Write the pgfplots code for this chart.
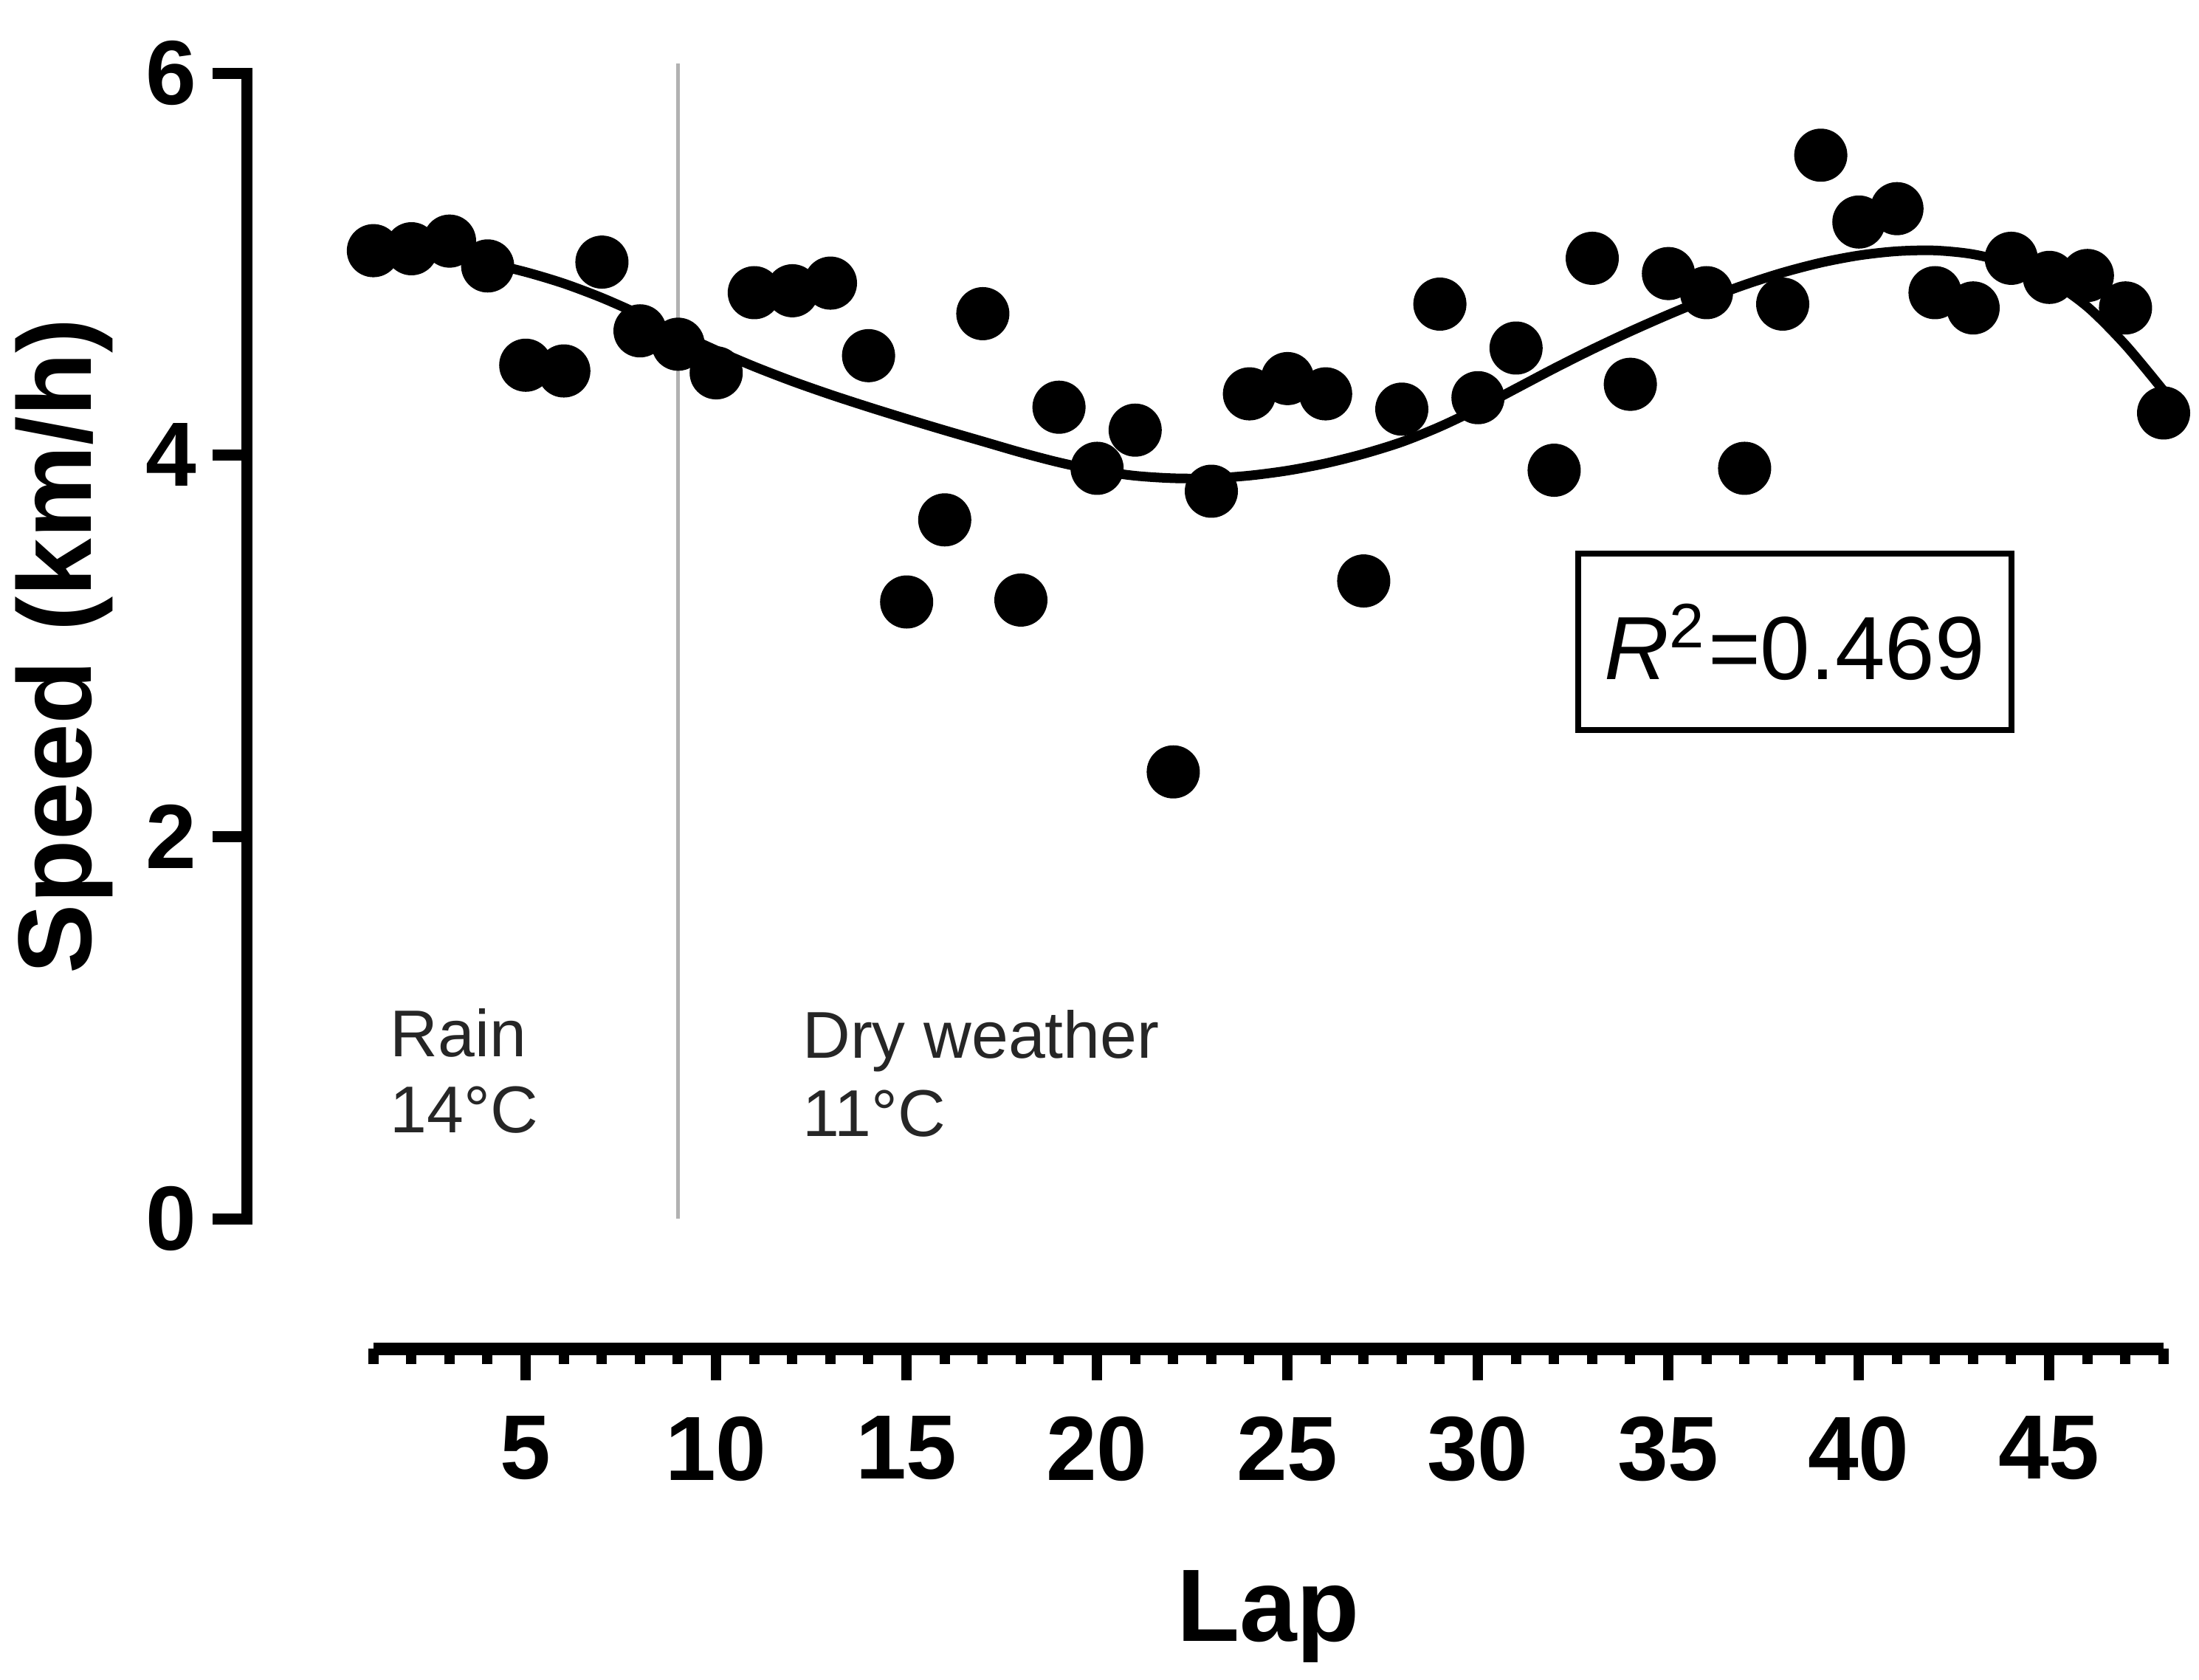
\documentclass[border=0pt]{standalone}
\usepackage{fontspec}
\setmainfont{Liberation Sans}
\usepackage{pgfplots}
\usepackage{pgfplotstable}
\pgfplotsset{compat=1.18}
\pgfplotstableread{
lap speed
1 5.07
2 5.08
3 5.12
4 4.99
5 4.47
6 4.44
7 5.01
8 4.65
9 4.58
10 4.43
11 4.85
12 4.86
13 4.90
14 4.52
15 3.23
16 3.66
17 4.74
18 3.24
19 4.25
20 3.93
21 4.13
22 2.34
23 3.81
24 4.32
25 4.40
26 4.32
27 3.34
28 4.24
29 4.79
30 4.30
31 4.56
32 3.92
33 5.03
34 4.37
35 4.95
36 4.85
37 3.93
38 4.79
39 5.57
40 5.22
41 5.29
42 4.85
43 4.77
44 5.03
45 4.93
46 4.94
47 4.77
48 4.22
}\points
\pgfplotstableread{
lap speed
1 5.080
2 5.065
3 5.040
4 5.005
5 4.958
6 4.898
7 4.823
8 4.735
9 4.640
10 4.548
11 4.463
12 4.386
13 4.316
14 4.251
15 4.189
16 4.129
17 4.071
18 4.013
19 3.961
20 3.919
21 3.891
22 3.878
23 3.878
24 3.892
25 3.918
26 3.956
27 4.006
28 4.068
29 4.148
30 4.243
31 4.348
32 4.453
33 4.553
34 4.647
35 4.735
36 4.817
37 4.891
38 4.955
39 5.007
40 5.045
41 5.067
42 5.071
43 5.051
44 5.001
45 4.916
46 4.776
47 4.576
48 4.336
}\curve
\begin{document}
\begin{tikzpicture}
\path[use as bounding box] (0,0) rectangle (297.9bp,227.6bp);
\begin{axis}[
  at={(33.4bp,62.5bp)}, anchor=south west,
  scale only axis, width=262.28bp, height=155.2bp,
  xmin=-2.33, xmax=48.5, ymin=0, ymax=6,
  axis x line=none, axis y line=left,
  y axis line style={-, line width=1.5bp, line cap=rect},
  ytick={0,2,4,6},
  tick align=outside, major tick length=4.6bp,
  every tick/.style={line width=1.5bp, black},
  yticklabel style={font=\bfseries\fontsize{12.4}{14}\selectfont, anchor=east, inner sep=0pt, xshift=-2.0bp},
  /pgf/number format/assume math mode=true,
  ylabel={Speed (km/h)},
  ylabel style={font=\bfseries\fontsize{14.2}{16}\selectfont, at={(axis description cs:-0.0804,0.5)}, anchor=base},
  clip=false,
]
\addplot[gray!60, line width=0.5bp] coordinates {(9,0) (9,6.05)};
\addplot[black, line width=1.3bp, smooth] table[x=lap, y=speed] {\curve};
\addplot[only marks, mark=*, mark size=3.4bp, black] table[x=lap, y=speed] {\points};
\node[draw, line width=0.8bp, minimum width=58.7bp, minimum height=23.9bp, inner sep=0pt, font=\fontsize{12.2}{14}\selectfont] at (axis cs:38.32,3.021) {\textit{R}\textsuperscript{2}=0.469};
\node[anchor=base west, inner sep=0pt, font=\fontsize{9}{11}\selectfont, text=black!85] at (axis cs:1.41,0.85) {Rain};
\node[anchor=base west, inner sep=0pt, font=\fontsize{9}{11}\selectfont, text=black!85] at (axis cs:1.41,0.45) {14°C};
\node[anchor=base west, inner sep=0pt, font=\fontsize{9}{11}\selectfont, text=black!85] at (axis cs:12.23,0.84) {Dry weather};
\node[anchor=base west, inner sep=0pt, font=\fontsize{9}{11}\selectfont, text=black!85] at (axis cs:12.23,0.43) {11°C};
\end{axis}
\begin{axis}[
  at={(50.56bp,44.9bp)}, anchor=south west,
  scale only axis, width=242.52bp, height=10bp,
  xmin=1, xmax=48, ymin=0, ymax=1,
  axis y line=none, axis x line=bottom,
  x axis line style={-, line width=1.7bp},
  xtick={5,10,...,45}, minor xtick={1,...,48},
  tick align=outside, major tick length=4.3bp, minor tick length=2.1bp,
  every tick/.style={line width=1.4bp, black},
  xticklabel style={font=\bfseries\fontsize{12.4}{14}\selectfont, anchor=north, inner sep=0pt, yshift=-4.7bp},
  /pgf/number format/assume math mode=true,
  xlabel={Lap},
  xlabel style={font=\bfseries\fontsize{14}{16}\selectfont, at={(axis description cs:0.5,0)}, anchor=base, yshift=-39.6bp},
]
\addplot[draw=none] coordinates {(1,0) (48,0)};
\end{axis}
\end{tikzpicture}
\end{document}
